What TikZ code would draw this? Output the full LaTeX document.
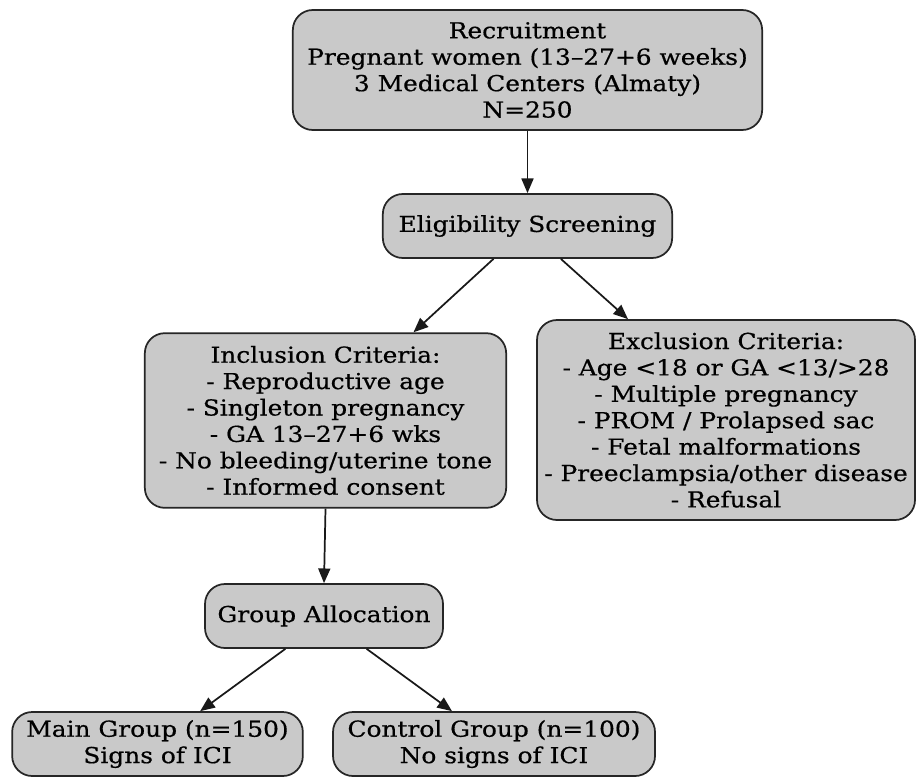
\documentclass[tikz,border=0pt]{standalone}
\usepackage{fontspec}
\setmainfont{DejaVu Serif}[FakeStretch=1.13,FakeBold=0.6]
\usetikzlibrary{arrows.meta}
\begin{document}
\begin{tikzpicture}[x=0.75pt,y=-0.75pt,
  box/.style={draw=black!85, line width=1.3pt, fill=black!21, rounded corners=15pt,
    align=center, inner sep=2pt, font=\fontsize{16.5}{19.8}\selectfont},
  arr/.style={draw=black!90, line width=1.3pt, -{Triangle[length=11pt,width=9pt]}}]
\useasboundingbox (0,0) rectangle (917,778);
\fill[white] (0,0) rectangle (917,778);
\node[box, minimum width=352pt, minimum height=90pt] (rec) at (527.5,70)
  {Recruitment\\Pregnant women (13–27+6 weeks)\\3 Medical Centers (Almaty)\\N=250};
\node[box, minimum width=217pt, minimum height=48pt] (elig) at (527.5,226) {Eligibility Screening};
\node[box, minimum width=271pt, minimum height=131pt] (incl) at (325.5,420.5)
  {Inclusion Criteria:\\- Reproductive age\\- Singleton pregnancy\\- GA 13–27+6 wks\\- No bleeding/uterine tone\\- Informed consent};
\node[box, minimum width=283.5pt, minimum height=150pt] (excl) at (726,420)
  {Exclusion Criteria:\\- Age <18 or GA <13/>28\\- Multiple pregnancy\\- PROM / Prolapsed sac\\- Fetal malformations\\- Preeclampsia/other disease\\- Refusal};
\node[box, minimum width=178.5pt, minimum height=48pt] (alloc) at (324,616) {Group Allocation};
\node[box, minimum width=218pt, minimum height=48pt] (main) at (157.5,744) {Main Group (n=150)\\Signs of ICI};
\node[box, minimum width=241.5pt, minimum height=48pt] (ctrl) at (494,744) {Control Group (n=100)\\No signs of ICI};
\draw[arr] (rec.south) -- (elig.north);
\draw[arr] ([xshift=-25.5pt]elig.south) -- ([xshift=66pt]incl.north);
\draw[arr] ([xshift=25pt]elig.south) -- ([xshift=-73.5pt]excl.north);
\draw[arr] (incl.south) -- (alloc.north);
\draw[arr] ([xshift=-29pt]alloc.south) -- ([xshift=32pt]main.north);
\draw[arr] ([xshift=32pt]alloc.south) -- ([xshift=-31.5pt]ctrl.north);
\end{tikzpicture}
\end{document}
